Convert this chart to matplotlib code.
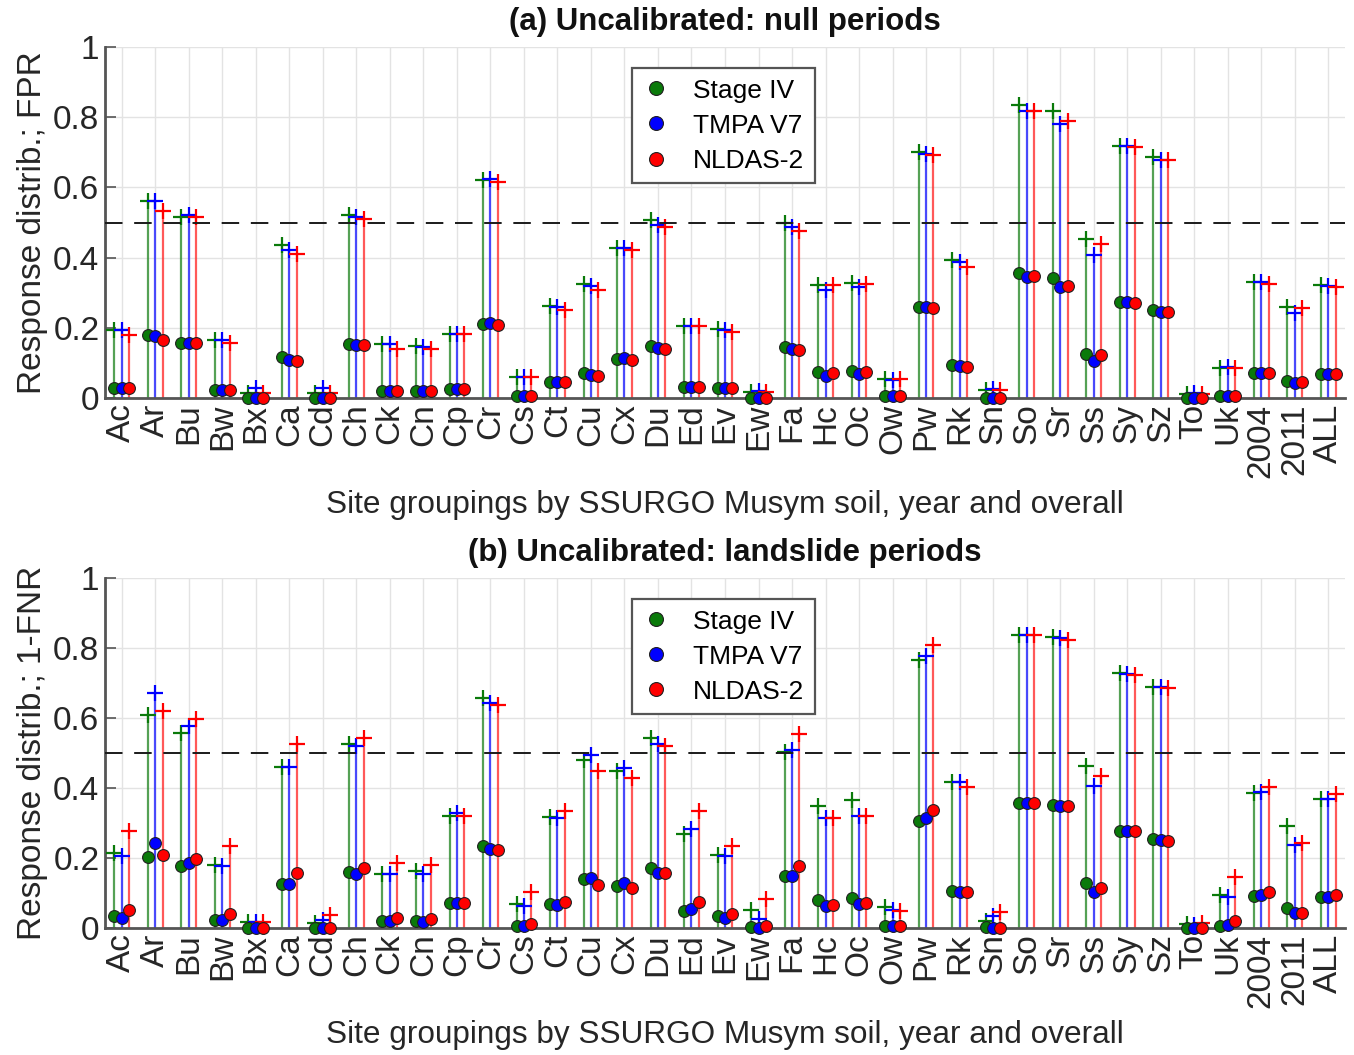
import numpy as np
import matplotlib
matplotlib.use("Agg")
import matplotlib.pyplot as plt
from matplotlib.lines import Line2D

plt.rcParams['font.family'] = ['Liberation Sans', 'DejaVu Sans']

categories = ["Ac", "Ar", "Bu", "Bw", "Bx", "Ca", "Cd", "Ch", "Ck", "Cn", "Cp", "Cr", "Cs",
              "Ct", "Cu", "Cx", "Du", "Ed", "Ev", "Ew", "Fa", "Hc", "Oc", "Ow", "Pw", "Rk",
              "Sn", "So", "Sr", "Ss", "Sy", "Sz", "To", "Uk", "2004", "2011", "ALL"]
series_names = ["Stage IV", "TMPA V7", "NLDAS-2"]

# Panel (a): null periods -- upper (+) values and lower (dot) values
a_upper_stage4 = [.195, .56, .515, .166, .014, .437, .014, .52, .154, .147, .183, .622, .06, .261, .326, .427, .508, .204, .198, .016, .499, .323, .328, .054, .700, .392, .022, .836, .819, .454, .719, .686, .012, .085, .330, .259, .321]
a_upper_tmpa = [.193, .56, .52, .166, .028, .423, .028, .515, .154, .145, .183, .624, .06, .258, .318, .427, .494, .206, .195, .020, .486, .309, .316, .052, .696, .387, .025, .817, .782, .406, .717, .679, .014, .087, .330, .242, .318]
a_upper_nldas = [.18, .534, .515, .157, .014, .411, .014, .51, .141, .141, .183, .614, .06, .252, .309, .421, .487, .204, .188, .016, .477, .321, .325, .054, .691, .373, .022, .819, .788, .44, .715, .677, .012, .085, .326, .256, .316]
a_lower_stage4 = [.028, .18, .157, .022, 0, .117, 0, .155, .019, .019, .027, .212, .005, .047, .071, .111, .149, .031, .028, 0, .145, .073, .076, .005, .259, .095, 0, .356, .342, .126, .274, .25, 0, .007, .071, .049, .068]
a_lower_tmpa = [.028, .178, .157, .022, 0, .109, 0, .152, .019, .019, .027, .214, .005, .047, .066, .114, .142, .031, .028, 0, .14, .064, .068, .005, .259, .09, 0, .344, .316, .104, .274, .245, 0, .007, .071, .043, .068]
a_lower_nldas = [.028, .166, .157, .022, 0, .106, 0, .152, .019, .019, .027, .209, .005, .046, .064, .109, .141, .031, .028, 0, .138, .071, .074, .005, .257, .088, 0, .347, .32, .123, .271, .244, 0, .007, .071, .047, .068]

# Panel (b): landslide periods
b_upper_stage4 = [.214, .61, .557, .179, .016, .459, .014, .525, .155, .164, .32, .658, .069, .316, .481, .449, .543, .269, .209, .052, .503, .349, .366, .059, .766, .418, .019, .838, .831, .463, .728, .689, .012, .095, .385, .292, .37]
b_upper_tmpa = [.207, .671, .577, .178, .016, .459, .024, .52, .155, .155, .33, .644, .064, .313, .494, .458, .527, .283, .207, .026, .508, .313, .32, .052, .776, .416, .033, .836, .829, .406, .725, .689, .010, .088, .389, .237, .37]
b_upper_nldas = [.278, .619, .596, .235, .016, .525, .036, .544, .187, .18, .32, .638, .103, .335, .449, .43, .52, .335, .235, .084, .554, .313, .32, .05, .81, .404, .045, .838, .823, .434, .724, .687, .014, .147, .402, .242, .382]
b_lower_stage4 = [.033, .204, .176, .024, 0, .125, 0, .159, .019, .021, .071, .235, .005, .068, .14, .121, .171, .05, .033, .003, .15, .081, .085, .005, .307, .106, .002, .358, .351, .128, .278, .254, 0, .007, .092, .057, .088]
b_lower_tmpa = [.030, .242, .185, .022, 0, .125, 0, .155, .019, .017, .071, .226, .005, .066, .142, .128, .157, .055, .03, 0, .15, .064, .068, .005, .313, .103, 0, .358, .35, .102, .278, .252, 0, .009, .095, .043, .088]
b_lower_nldas = [.052, .209, .197, .04, 0, .157, 0, .171, .028, .026, .071, .223, .011, .074, .123, .114, .157, .074, .04, .007, .176, .066, .071, .005, .337, .102, 0, .358, .349, .114, .278, .25, 0, .019, .102, .043, .093]

titles = ["(a) Uncalibrated: null periods", "(b) Uncalibrated: landslide periods"]
ylabels = ["Response distrib.; FPR", "Response distrib.; 1-FNR"]
xlabel = "Site groupings by SSURGO Musym soil, year and overall"
threshold = 0.5

dot_colors = ["#0a7a0a", "#0000ff", "#ff0000"]
line_colors = ["#2a8a2a", "#2020ff", "#ff3030"]
offsets = [-0.22, 0.0, 0.22]

W, H = 1354, 1055
fig = plt.figure(figsize=(W / 100, H / 100), dpi=100, facecolor="white")

panels = [
    ((a_upper_stage4, a_upper_tmpa, a_upper_nldas), (a_lower_stage4, a_lower_tmpa, a_lower_nldas), 47, 398),
    ((b_upper_stage4, b_upper_tmpa, b_upper_nldas), (b_lower_stage4, b_lower_tmpa, b_lower_nldas), 578, 928),
]

x = np.arange(1, len(categories) + 1)
gray = "#555555"
txt = "#262626"
for k, (uppers, lowers, ytop, ybot) in enumerate(panels):
    ax = fig.add_axes([105 / W, (H - ybot) / H, 1240 / W, (ybot - ytop) / H])
    ax.set_xlim(0.5, len(categories) + 0.5)
    ax.set_ylim(0, 1)
    ax.set_xticks(x)
    ax.set_xticklabels(categories, rotation=90, fontsize=24)
    ax.set_yticks(np.arange(0, 1.01, 0.2))
    ax.set_yticklabels(["0", "0.2", "0.4", "0.6", "0.8", "1"], fontsize=24)
    ax.grid(True, color="#e3e3e3", linewidth=1.0)
    ax.set_axisbelow(True)
    for s in ["top", "right"]:
        ax.spines[s].set_visible(False)
    for s in ["left", "bottom"]:
        ax.spines[s].set_color(gray)
        ax.spines[s].set_linewidth(2.0)
    ax.tick_params(axis="y", direction="in", length=8, width=1.2, color=gray, pad=4, labelcolor=txt)
    ax.tick_params(axis="x", length=0, pad=4, labelcolor=txt)

    for j in range(3):
        up = np.asarray(uppers[j])
        xx = x + offsets[j]
        ax.vlines(xx, 0, up, color=line_colors[j], linewidth=1.6, alpha=0.8, zorder=2)
        ax.plot(xx, up, linestyle="none", marker="+", markersize=11, markeredgewidth=1.6,
                color=dot_colors[j], zorder=3)
    for j in range(3):
        lo = np.asarray(lowers[j])
        xx = x + offsets[j]
        ax.plot(xx, lo, linestyle="none", marker="o", markersize=8.5, markerfacecolor=dot_colors[j],
                markeredgecolor="#202020", markeredgewidth=0.8, zorder=4 + j, clip_on=False)

    ax.axhline(threshold, color="#1a1a1a", linestyle=(0, (9, 6)), linewidth=1.4, zorder=3)

    ax.set_title(titles[k], fontsize=22.5, fontweight="bold", pad=12, color="#111111")
    ax.set_ylabel(ylabels[k], fontsize=24, labelpad=4, color=txt)
    ax.set_xlabel(xlabel, fontsize=22.7, labelpad=9, color=txt)

    handles = [Line2D([], [], linestyle="none", marker="o", markersize=10,
                      markerfacecolor=dot_colors[j], markeredgecolor="#202020",
                      markeredgewidth=0.8) for j in range(3)]
    leg = ax.legend(handles, series_names, loc="upper left", bbox_to_anchor=(0.425, 0.94),
                    borderaxespad=0, fontsize=19, frameon=True, fancybox=False, framealpha=1,
                    edgecolor="#555555", handlelength=1.0, handletextpad=0.9,
                    borderpad=0.4, labelspacing=0.42)
    leg.get_frame().set_linewidth(1.6)

fig.savefig("out.png", dpi=100, facecolor="white")
